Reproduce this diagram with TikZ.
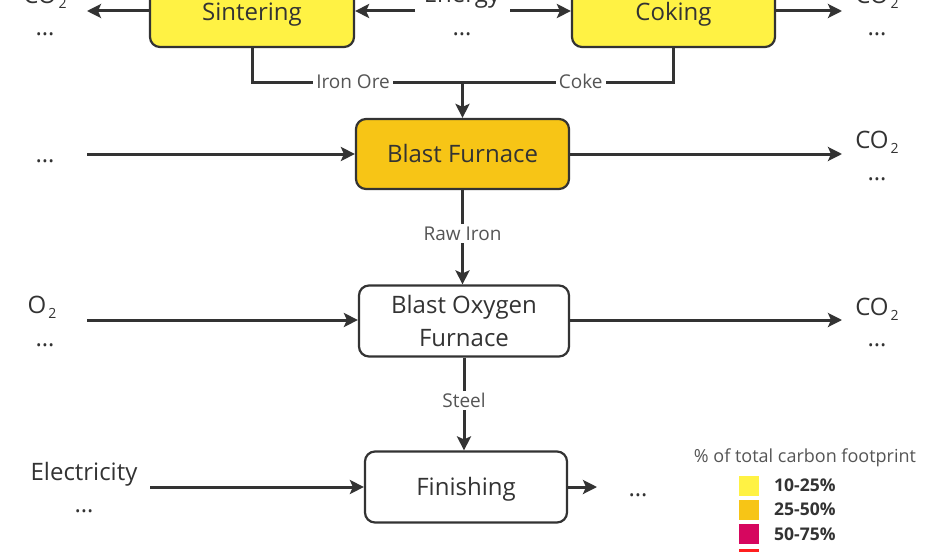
\documentclass[tikz,border=0pt]{standalone}
\usepackage{fontspec}
\setmainfont{Open Sans}
\usetikzlibrary{arrows.meta}
\definecolor{ink}{HTML}{333333}
\definecolor{labgray}{HTML}{555555}
\definecolor{yel}{HTML}{FFF244}
\definecolor{orng}{HTML}{F7C516}
\definecolor{mag}{HTML}{D6075F}
\definecolor{redc}{HTML}{FF1F1F}
\newcommand{\subtwo}{\hspace{2pt}\raisebox{-5pt}{\fontsize{14}{14}\selectfont 2}}
\begin{document}
\begin{tikzpicture}[x=1pt,y=-1pt,
  procbase/.style={draw=ink, line width=2.2pt, rounded corners=10pt, text=ink,
    font=\fontsize{24}{33}\selectfont, align=center, inner sep=0pt},
  proc/.style={procbase, text height=17pt, text depth=0pt},
  flow/.style={draw=ink, line width=3pt, -{Stealth[length=14pt,width=14pt,inset=3pt]}},
  plainline/.style={draw=ink, line width=3pt},
  txt/.style={text=ink, font=\fontsize{24}{27}\selectfont, inner sep=0pt, anchor=base},
  lab/.style={text=labgray, fill=white, font=\fontsize{19}{20}\selectfont, inner sep=3pt,
    text height=13.5pt, text depth=0pt},
  legtitle/.style={text=labgray, font=\fontsize{18}{20}\selectfont, inner sep=0pt},
  legbox/.style={minimum width=20pt, minimum height=20pt, inner sep=0pt},
  leglab/.style={text=ink, font=\fontsize{17.5}{20}\selectfont\bfseries, anchor=west, inner sep=0pt,
    text height=12.5pt, text depth=0pt}]
\useasboundingbox (0,0) rectangle (928,551);
\clip (0,0) rectangle (928,551);
\fill[white] (0,0) rectangle (928,551);

% process boxes
\node[proc, fill=yel, minimum width=204, minimum height=70] (sint) at (252,12) {Sintering};
\node[proc, fill=yel, minimum width=203, minimum height=70] (coke) at (673.5,12) {Coking};
\node[proc, fill=orng, minimum width=213, minimum height=70] (bf) at (462.5,154) {Blast Furnace};
\node[procbase, fill=white, minimum width=210, minimum height=71] (bof) at (464,321) {Blast Oxygen\\Furnace};
\node[proc, fill=white, minimum width=202, minimum height=71] (fin) at (466,487) {Finishing};

% side texts (positioned by baseline)
\node[txt] (co2a) at (45,4) {CO\subtwo};
\node[txt] (dota) at (45,36) {…};
\node[txt] (energy) at (462,2.5) {Energy};
\node[txt] (dotb) at (462,36) {…};
\node[txt] (co2b) at (877,4) {CO\subtwo};
\node[txt] (dotc) at (877,36) {…};
\node[txt] (dotd) at (45,162) {…};
\node[txt] (co2c) at (877,148) {CO\subtwo};
\node[txt] (dote) at (877,180) {…};
\node[txt] (o2) at (42,313) {O\subtwo};
\node[txt] (dotf) at (45,346) {…};
\node[txt] (co2d) at (877,315) {CO\subtwo};
\node[txt] (dotg) at (877,346) {…};
\node[txt] (elec) at (84,480) {Electricity};
\node[txt] (doth) at (84,512) {…};
\node[txt] (doti) at (638,496) {…};

% free ends
\coordinate (pa) at (87,11);
\coordinate (enl) at (415,11);
\coordinate (enr) at (510,11);
\coordinate (pb) at (842,11);
\coordinate (j) at (462.5,82);
\coordinate (pc) at (87,154);
\coordinate (pd) at (842,154);
\coordinate (pe) at (87,320);
\coordinate (pf) at (842,320);
\coordinate (pg) at (150,487);
\coordinate (ph) at (597,487);

% connectors
\draw[flow] (sint.west |- pa) -- (pa);
\draw[flow] (enl) -- (sint.east |- enl);
\draw[flow] (enr) -- (coke.west |- enr);
\draw[flow] (coke.east |- pb) -- (pb);
\draw[plainline] (sint.south) |- (j) node[lab, pos=0.74] {Iron Ore};
\draw[plainline] (coke.south) |- (j) node[lab, pos=0.72] {Coke};
\draw[flow] (j) -- (bf.north);
\draw[flow] (pc) -- (bf.west);
\draw[flow] (bf.east) -- (pd);
\draw[flow] (bf.south) -- (bf.south |- bof.north) node[lab, pos=0.46] {Raw Iron};
\draw[flow] (pe) -- (bof.west |- pe);
\draw[flow] (bof.east |- pf) -- (pf);
\draw[flow] (bof.south) -- (bof.south |- fin.north) node[lab, pos=0.46] {Steel};
\draw[flow] (pg) -- (fin.west);
\draw[flow] (fin.east) -- (ph);

% legend
\node[legtitle] (lt) at (805,458) {\% of total carbon footprint};
\node[legbox, fill=yel] (l1) at (749,485.5) {};
\node[legbox, fill=orng] (l2) at (749,509.5) {};
\node[legbox, fill=mag] (l3) at (749,534) {};
\node[legbox, fill=redc] (l4) at (749,558.5) {};
\node[leglab] (t1) at (774,485.5) {10-25\%};
\node[leglab] (t2) at (774,509.5) {25-50\%};
\node[leglab] (t3) at (774,534) {50-75\%};
\end{tikzpicture}
\end{document}
